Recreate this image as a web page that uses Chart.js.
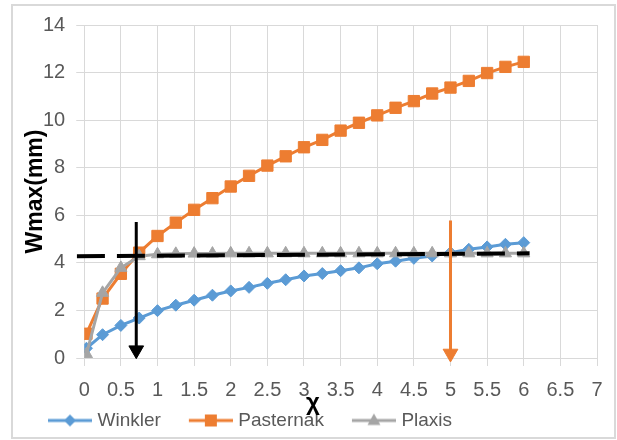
<!DOCTYPE html>
<html>
<head>
<meta charset="utf-8">
<script src="https://cdn.jsdelivr.net/npm/chart.js@4.4.1/dist/chart.umd.min.js"></script>
<style>
  body { margin: 0; background: #fff; }
  #wrap { width: 617px; height: 440px; position: relative; }
</style>
</head>
<body>
<div id="wrap"><canvas id="chart"></canvas></div>
<script>
// values
const xValues = [0.03, 0.25, 0.5, 0.75, 1, 1.25, 1.5, 1.75, 2, 2.25, 2.5, 2.75, 3,
                 3.25, 3.5, 3.75, 4, 4.25, 4.5, 4.75, 5, 5.25, 5.5, 5.75, 6];
const winkler = [0.41, 0.98, 1.37, 1.68, 1.99, 2.22, 2.43, 2.64, 2.82, 2.97, 3.14, 3.29, 3.45,
                 3.55, 3.67, 3.79, 3.96, 4.07, 4.19, 4.29, 4.43, 4.57, 4.67, 4.78, 4.85];
const pasternak = [1.02, 2.5, 3.54, 4.43, 5.13, 5.69, 6.23, 6.72, 7.21, 7.66, 8.09, 8.48, 8.86,
                   9.17, 9.56, 9.89, 10.2, 10.52, 10.8, 11.12, 11.37, 11.65, 11.98, 12.24, 12.45];
const plaxis = [0.16, 2.74, 3.79, 4.28, 4.36, 4.38, 4.39, 4.39, 4.4, 4.4, 4.4, 4.4, 4.4,
                4.4, 4.4, 4.4, 4.4, 4.4, 4.4, 4.4, 4.4, 4.4, 4.4, 4.4, 4.4];

const seriesNames = ['Winkler', 'Pasternak', 'Plaxis'];
const seriesColors = ['#5B9BD5', '#ED7D31', '#A5A5A5'];
const seriesMarkers = ['rectRot', 'rect', 'triangle'];

// dashed level line and the two arrows
const refLineX = [-0.1, 6.08];
const refLineY = [4.28, 4.4];
const blackArrowX = [0.71, 0.71];
const blackArrowY = [5.72, 0.33];
const orangeArrowX = [5.0, 5.0];
const orangeArrowY = [5.78, 0.19];

const yTicks = { min: 0, max: 14, step: 2 };
const xTicks = { min: 0, max: 7, step: 0.5 };

const FONT = "'Liberation Sans', Arial, sans-serif";

function toPoints(xs, ys) {
    return xs.map((x, i) => ({ x: x, y: ys[i] }));
}

// small canvas with line + marker, used as the legend symbol
function legendIcon(color, marker) {
    const c = document.createElement('canvas');
    c.width = 70;
    c.height = 18;
    const ctx = c.getContext('2d');
    ctx.strokeStyle = color;
    ctx.fillStyle = color;
    ctx.lineWidth = 3;
    ctx.beginPath();
    ctx.moveTo(26, 9);
    ctx.lineTo(70, 9);
    ctx.stroke();
    const cx = 48, cy = 9;
    ctx.beginPath();
    if (marker === 'rectRot') {
        ctx.moveTo(cx - 6, cy); ctx.lineTo(cx, cy - 6); ctx.lineTo(cx + 6, cy); ctx.lineTo(cx, cy + 6);
    } else if (marker === 'rect') {
        ctx.rect(cx - 6, cy - 6, 12, 12);
    } else {
        ctx.moveTo(cx, cy - 7); ctx.lineTo(cx + 6.5, cy + 4.5); ctx.lineTo(cx - 6.5, cy + 4.5);
    }
    ctx.closePath();
    ctx.fill();
    return c;
}

const icons = seriesColors.map((c, i) => legendIcon(c, seriesMarkers[i]));

const seriesData = [winkler, pasternak, plaxis];
const radii = [6, 8, 7];

const datasets = seriesNames.map((name, i) => ({
    label: name,
    data: toPoints(xValues, seriesData[i]),
    showLine: true,
    borderColor: seriesColors[i],
    backgroundColor: seriesColors[i],
    borderWidth: 3,
    pointStyle: seriesMarkers[i],
    pointRadius: radii[i],
    pointBorderWidth: 1,
    pointBorderColor: seriesColors[i],
    pointBackgroundColor: seriesColors[i],
    order: 5 - i
}));

datasets.push({
    label: 'level',
    data: toPoints(refLineX, refLineY),
    showLine: true,
    borderColor: '#000',
    borderWidth: 4,
    borderDash: [28, 12],
    pointRadius: 0,
    clip: false,
    order: 2
});

[[blackArrowX, blackArrowY, '#000'], [orangeArrowX, orangeArrowY, '#ED7D31']].forEach((a, k) => {
    datasets.push({
        label: 'arrow' + k,
        data: toPoints(a[0], a[1]),
        showLine: true,
        borderColor: a[2],
        backgroundColor: a[2],
        borderWidth: 3,
        pointStyle: 'triangle',
        pointRadius: [0, 8.5],
        pointRotation: [0, 180],
        pointBorderWidth: 1,
        pointBorderColor: a[2],
        pointBackgroundColor: a[2],
        clip: false,
        order: 1 - k
    });
});

// outer frame and the x axis title
const framePlugin = {
    id: 'frame',
    beforeDraw(chart) {
        const ctx = chart.ctx;
        ctx.save();
        ctx.strokeStyle = '#d9d9d9';
        ctx.lineWidth = 2;
        ctx.strokeRect(12, 5, 603, 433);
        ctx.restore();
    },
    afterDraw(chart) {
        const ctx = chart.ctx;
        const xs = chart.scales.x;
        ctx.save();
        ctx.fillStyle = '#000';
        ctx.font = 'bold 24px ' + FONT;
        ctx.textAlign = 'center';
        ctx.textBaseline = 'alphabetic';
        ctx.fillText('χ', xs.getPixelForValue(3) + 9, chart.chartArea.bottom + 52);
        ctx.restore();
    }
};

const tickLabel = v => String(Math.round(v * 10) / 10);

new Chart(document.getElementById('chart'), {
    type: 'scatter',
    data: { datasets: datasets },
    options: {
        responsive: true,
        maintainAspectRatio: false,
        animation: false,
        events: [],
        layout: { padding: { left: 20, right: 20, top: 25, bottom: 0 } },
        scales: {
            x: {
                type: 'linear',
                min: xTicks.min,
                max: xTicks.max,
                ticks: {
                    stepSize: xTicks.step,
                    color: '#595959',
                    font: { family: FONT, size: 20 },
                    padding: 12,
                    maxRotation: 0,
                    autoSkip: false,
                    callback: tickLabel
                },
                grid: { color: '#d9d9d9', lineWidth: 1, tickLength: 8, tickColor: '#d9d9d9' },
                border: { color: '#d9d9d9' },
                afterFit(scale) { scale.height -= 9; }
            },
            y: {
                min: yTicks.min,
                max: yTicks.max,
                ticks: {
                    stepSize: yTicks.step,
                    color: '#595959',
                    font: { family: FONT, size: 20 },
                    padding: 11,
                    callback: tickLabel
                },
                grid: { color: '#d9d9d9', lineWidth: 1, tickLength: 8, tickColor: '#d9d9d9' },
                border: { color: '#d9d9d9' },
                title: {
                    display: true,
                    text: 'Wmax(mm)',
                    color: '#000',
                    font: { family: FONT, size: 23, weight: 'bold', lineHeight: 1 },
                    padding: { top: 4, bottom: -15 }
                }
            }
        },
        plugins: {
            tooltip: { enabled: false },
            legend: {
                position: 'bottom',
                align: 'start',
                labels: {
                    usePointStyle: true,
                    pointStyleWidth: 62,
                    padding: 6,
                    color: '#595959',
                    font: { family: FONT, size: 19 },
                    generateLabels: () => seriesNames.map((name, i) => ({
                        text: name,
                        fillStyle: seriesColors[i],
                        strokeStyle: seriesColors[i],
                        fontColor: '#595959',
                        lineWidth: 0,
                        pointStyle: icons[i],
                        hidden: false,
                        datasetIndex: i
                    }))
                }
            }
        }
    },
    plugins: [framePlugin]
});
</script>
</body>
</html>
